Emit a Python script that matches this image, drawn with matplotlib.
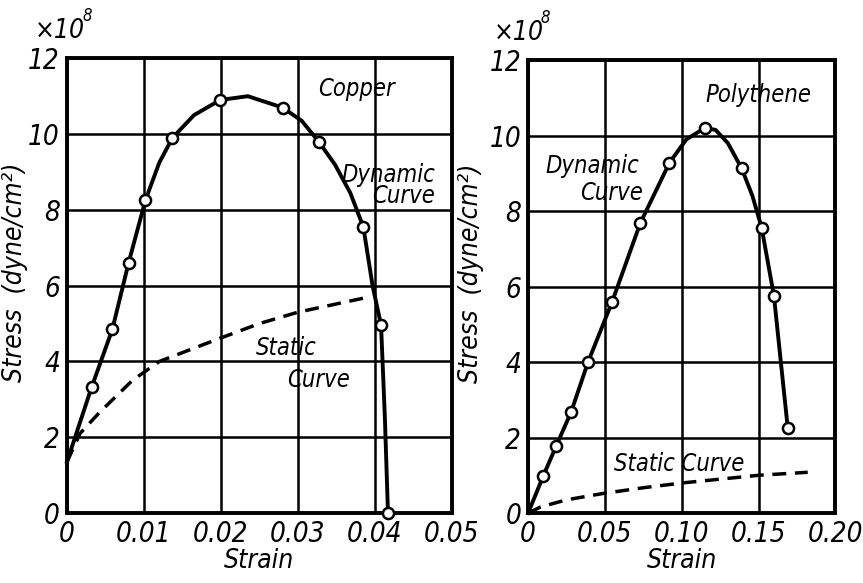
import numpy as np
import matplotlib
matplotlib.use("Agg")
import matplotlib.pyplot as plt

FONT = ["DejaVu Sans"]

# copper
cu_marker_strain = [0.0032, 0.0059, 0.0080, 0.0102, 0.0137, 0.0199, 0.0280, 0.0327, 0.0385, 0.0408, 0.0417]
cu_marker_stress = [3.32, 4.85, 6.6, 8.26, 9.9, 10.9, 10.7, 9.8, 7.55, 4.96, 0.0]
cu_dyn_strain = [0.0, 0.0032, 0.0059, 0.0080, 0.0102, 0.0120, 0.0137, 0.0165, 0.0199, 0.0235,
                 0.0280, 0.0305, 0.0327, 0.0348, 0.0368, 0.0385, 0.0397, 0.0408, 0.0413, 0.0417]
cu_dyn_stress = [1.35, 3.32, 4.85, 6.6, 8.26, 9.25, 9.9, 10.5, 10.9, 11.0,
                 10.7, 10.35, 9.8, 9.2, 8.45, 7.55, 6.0, 4.96, 2.5, 0.0]
cu_static_strain = [0.0, 0.0017, 0.0042, 0.0085, 0.0120, 0.0192, 0.0250, 0.0300, 0.0385]
cu_static_stress = [1.35, 2.1, 2.65, 3.5, 4.0, 4.56, 5.0, 5.3, 5.67]

# polythene
pe_marker_strain = [0.0098, 0.0183, 0.028, 0.039, 0.0547, 0.073, 0.092, 0.115, 0.139, 0.152, 0.160, 0.169]
pe_marker_stress = [0.98, 1.78, 2.68, 4.0, 5.6, 7.68, 9.28, 10.2, 9.13, 7.56, 5.75, 2.25]
pe_dyn_strain = [0.0, 0.0098, 0.0183, 0.028, 0.039, 0.0547, 0.073, 0.092, 0.103, 0.115,
                 0.122, 0.130, 0.139, 0.146, 0.152, 0.160, 0.169]
pe_dyn_stress = [0.0, 0.98, 1.78, 2.68, 4.0, 5.6, 7.68, 9.28, 9.9, 10.2,
                 10.15, 9.8, 9.13, 8.4, 7.56, 5.75, 2.25]
pe_static_strain = [0.0, 0.008, 0.025, 0.049, 0.075, 0.101, 0.150, 0.182]
pe_static_stress = [0.0, 0.16, 0.35, 0.52, 0.67, 0.80, 1.0, 1.08]

y_ticks = [0, 2, 4, 6, 8, 10, 12]
cu_x_ticks = [0, 0.01, 0.02, 0.03, 0.04, 0.05]
cu_x_labels = ["0", "0.01", "0.02", "0.03", "0.04", "0.05"]
pe_x_ticks = [0, 0.05, 0.10, 0.15, 0.20]
pe_x_labels = ["0", "0.05", "0.10", "0.15", "0.20"]

txt = dict(family=FONT, style="italic", stretch="condensed", color="black")


def style_axes(ax, xticks, xlabels, xmax, ylab_x, mult_x):
    ax.set_xlim(0, xmax)
    ax.set_ylim(0, 12)
    ax.set_xticks(xticks)
    ax.set_xticklabels(xlabels)
    ax.set_yticks(y_ticks)
    ax.grid(True, color="black", linewidth=1.8)
    ax.set_axisbelow(True)
    ax.tick_params(length=0, pad=5, labelsize=20)
    for lab in ax.get_xticklabels() + ax.get_yticklabels():
        lab.set_family(FONT)
        lab.set_style("italic")
        lab.set_stretch("condensed")
    for sp in ax.spines.values():
        sp.set_linewidth(2.8)
    ax.set_xlabel("Strain", fontsize=19, labelpad=0, **txt)
    ax.set_ylabel("Stress  (dyne/cm²)", fontsize=19, **txt)
    ax.yaxis.set_label_coords(ylab_x, 0.53)
    # the "x10^8" multiplier above the y axis
    ax.annotate("×10", xy=(0, 1), xycoords="axes fraction", xytext=(mult_x, 10),
                textcoords="offset points", fontsize=19, ha="left", va="bottom", **txt)
    ax.annotate("8", xy=(0, 1), xycoords="axes fraction", xytext=(mult_x + 34, 24),
                textcoords="offset points", fontsize=12, ha="left", va="bottom", **txt)


fig = plt.figure(figsize=(8.63, 5.83), dpi=100)
ax1 = fig.add_axes([0.0776, 0.120, 0.446, 0.780])
ax2 = fig.add_axes([0.612, 0.120, 0.356, 0.777])

mk = dict(marker="o", markersize=8, markerfacecolor="white", markeredgecolor="black",
          markeredgewidth=1.8, linestyle="none", zorder=4, clip_on=False)

ax1.plot(cu_dyn_strain, cu_dyn_stress, color="black", linewidth=2.8, zorder=3, clip_on=False)
ax1.plot(cu_marker_strain, cu_marker_stress, **mk)
ax1.plot(cu_static_strain, cu_static_stress, color="black", linewidth=2.5, dashes=(4, 2.5), zorder=3)
style_axes(ax1, cu_x_ticks, cu_x_labels, 0.05, -0.10, -23)

ax1.text(0.0376, 11.2, "Copper", ha="center", va="center", fontsize=17, **txt)
ax1.text(0.0478, 8.65, "Dynamic\nCurve", ha="right", va="center", linespacing=0.85, fontsize=17, **txt)
ax1.text(0.0285, 4.35, "Static", ha="center", va="center", fontsize=17, **txt)
ax1.text(0.0327, 3.5, "Curve", ha="center", va="center", fontsize=17, **txt)

ax2.plot(pe_dyn_strain, pe_dyn_stress, color="black", linewidth=2.8, zorder=3, clip_on=False)
ax2.plot(pe_marker_strain, pe_marker_stress, **mk)
ax2.plot(pe_static_strain, pe_static_stress, color="black", linewidth=2.5, dashes=(4, 2.5), zorder=3)
style_axes(ax2, pe_x_ticks, pe_x_labels, 0.20, -0.145, -25)

ax2.text(0.150, 11.07, "Polythene", ha="center", va="center", fontsize=17, **txt)
ax2.text(0.042, 9.2, "Dynamic", ha="center", va="center", fontsize=17, **txt)
ax2.text(0.054, 8.47, "Curve", ha="center", va="center", fontsize=17, **txt)
ax2.text(0.098, 1.3, "Static Curve", ha="center", va="center", fontsize=17, **txt)

fig.savefig("out.png", dpi=100, facecolor="white")
